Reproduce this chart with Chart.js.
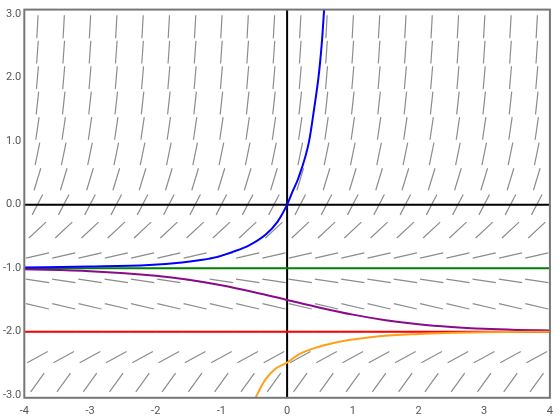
<!DOCTYPE html>
<html lang="en">
<head>
  <meta charset="UTF-8">
  <title>Slope field</title>
  <script src="https://cdn.jsdelivr.net/npm/chart.js"></script>
  <style>
    body { margin: 0; padding: 0; background: #fff; }
    #wrap { width: 560px; height: 420px; }
  </style>
</head>
<body>
  <div id="wrap"><canvas id="slopeChart" width="560" height="420"></canvas></div>

  <script>
    // axis limits and ticks
    const xLimits = [-4, 4];
    const yLimits = [-3.04, 3.07];
    const xTicks = [-4, -3, -2, -1, 0, 1, 2, 3, 4];
    const yTicks = [-3, -2, -1, 0, 1, 2, 3];

    // slope field: column centres, row centres and the slope read for each row
    const fieldX = [-3.8, -3.4, -3.0, -2.6, -2.2, -1.8, -1.4, -1.0, -0.6, -0.2,
                    0.2, 0.6, 1.0, 1.4, 1.8, 2.2, 2.6, 3.0, 3.4, 3.8];
    const fieldY = [2.8, 2.4, 2.0, 1.6, 1.2, 0.8, 0.4, 0.0, -0.4, -0.8, -1.2, -1.6, -2.0, -2.4, -2.8];
    const rowSlopes = [18.2, 14.8, 12.0, 9.4, 7.0, 5.0, 3.4, 2.0, 0.96, 0.24, -0.16, -0.24, 0.0, 0.56, 1.44];

    // equilibrium levels
    const greenLevel = -1;
    const redLevel = -2;

    // solution curves (x, y)
    const blueX = [-4, -3, -2.1, -1.6, -1.34, -1.085, -0.83, -0.578, -0.325, -0.147, 0, 0.08, 0.172, 0.335, 0.41, 0.487, 0.537, 0.565];
    const blueY = [-0.99, -0.975, -0.95, -0.91, -0.875, -0.83, -0.744, -0.64, -0.47, -0.27, 0, 0.2, 0.42, 1.0, 1.5, 2.09, 2.66, 3.1];

    const purpleX = [-4, -3, -2, -1.5, -1, -0.5, 0, 0.5, 1, 1.5, 2, 2.5, 3, 3.5, 4];
    const purpleY = [-1.018, -1.047, -1.119, -1.182, -1.269, -1.378, -1.5, -1.622, -1.731, -1.818, -1.881, -1.924, -1.953, -1.971, -1.982];

    const orangeX = [-0.49, -0.40, -0.325, -0.172, 0, 0.18, 0.437, 0.69, 0.94, 1.4, 2.0, 2.42, 3.0, 4.0];
    const orangeY = [-3.06, -2.875, -2.745, -2.58, -2.485, -2.355, -2.25, -2.18, -2.13, -2.07, -2.035, -2.02, -2.008, -2.0];

    const halfLen = 0.18;

    function pairs(xs, ys) {
      return xs.map((x, i) => ({ x: x, y: ys[i] }));
    }

    // build the short field segments, separated by gaps
    const fieldPts = [];
    fieldY.forEach((yc, r) => {
      const m = rowSlopes[r];
      const dx = halfLen / Math.sqrt(1 + m * m);
      fieldX.forEach((xc) => {
        fieldPts.push({ x: xc - dx, y: yc - m * dx });
        fieldPts.push({ x: xc + dx, y: yc + m * dx });
        fieldPts.push({ x: xc, y: null });
      });
    });

    const frame = {
      id: 'frame',
      afterDatasetsDraw(chart) {
        const a = chart.chartArea;
        const c = chart.ctx;
        c.save();
        c.strokeStyle = '#777';
        c.lineWidth = 2;
        c.strokeRect(a.left, a.top, a.right - a.left, a.bottom - a.top);
        c.restore();
      }
    };

    const lineOpts = { showLine: true, pointRadius: 0, borderWidth: 2, fill: false };
    const smooth = { cubicInterpolationMode: 'monotone' };

    new Chart(document.getElementById('slopeChart'), {
      type: 'scatter',
      data: {
        datasets: [
          Object.assign({ label: 'blue', data: pairs(blueX, blueY), borderColor: '#0000ff', order: 1 }, lineOpts, smooth),
          Object.assign({ label: 'orange', data: pairs(orangeX, orangeY), borderColor: '#ff9f1a', order: 2 }, lineOpts, smooth),
          Object.assign({ label: 'purple', data: pairs(purpleX, purpleY), borderColor: '#8b0a8b', order: 3 }, lineOpts, smooth),
          Object.assign({ label: 'red', data: pairs(xLimits, [redLevel, redLevel]), borderColor: '#ff0000', order: 4 }, lineOpts),
          Object.assign({ label: 'green', data: pairs(xLimits, [greenLevel, greenLevel]), borderColor: '#008000', order: 5 }, lineOpts),
          Object.assign({ label: 'xaxis', data: pairs(xLimits, [0, 0]), borderColor: '#000', order: 6 }, lineOpts),
          Object.assign({ label: 'yaxis', data: pairs([0, 0], yLimits), borderColor: '#000', order: 7 }, lineOpts),
          { label: 'field', data: fieldPts, showLine: true, spanGaps: false, pointRadius: 0,
            borderColor: '#8c8c8c', borderWidth: 1.2, order: 10 }
        ]
      },
      options: {
        responsive: false,
        animation: false,
        layout: { padding: { top: 2, right: 9, bottom: -5, left: 0 } },
        plugins: { legend: { display: false }, tooltip: { enabled: false } },
        scales: {
          x: {
            type: 'linear',
            min: xLimits[0],
            max: xLimits[1],
            afterBuildTicks: (s) => { s.ticks = xTicks.map(v => ({ value: v })); },
            grid: { display: false, drawTicks: false },
            border: { display: false },
            ticks: { color: '#555', font: { family: 'Roboto', size: 11 }, padding: 7,
              callback: (v) => String(v) }
          },
          y: {
            type: 'linear',
            min: yLimits[0],
            max: yLimits[1],
            afterBuildTicks: (s) => { s.ticks = yTicks.map(v => ({ value: v })); },
            grid: { display: false, drawTicks: false },
            border: { display: false },
            ticks: { color: '#555', font: { family: 'Roboto', size: 11 }, padding: 3,
              callback: (v) => v.toFixed(1) }
          }
        }
      },
      plugins: [frame]
    });
  </script>
</body>
</html>
